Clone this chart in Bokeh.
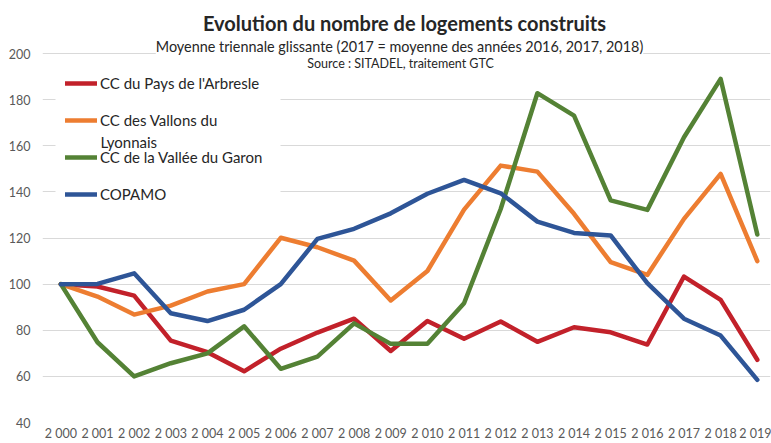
from bokeh.plotting import figure
from bokeh.models import (FixedTicker, Legend, LegendItem, Label, Range1d, BoxAnnotation)
from bokeh.embed import file_html
from bokeh.resources import INLINE

years = list(range(2000, 2020))
year_labels = ["2 000", "2 001", "2 002", "2 003", "2 004", "2 005", "2 006", "2 007",
               "2 008", "2 009", "2 010", "2 011", "2 012", "2 013", "2 014", "2 015",
               "2 016", "2 017", "2 018", "2 019"]
arbresle = [100, 99, 95, 75.5, 70.5, 62.2, 72, 79, 85, 71, 84, 76.3, 83.8, 75, 81.3,
            79.1, 73.8, 103.3, 93.2, 67.2]
vallons = [100, 94.6, 86.8, 90.7, 96.8, 100, 120.1, 116, 110.2, 92.9, 105.7, 132.3,
           151.4, 148.8, 130.5, 109.5, 104, 128.3, 147.8, 110]
garon = [100, 74.8, 60, 65.7, 70, 81.7, 63.3, 68.6, 83, 74.1, 74.1, 91.7, 132.6,
         182.8, 173.1, 136.3, 132.2, 163.7, 189, 121.5]
copamo = [100, 100.1, 104.7, 87.4, 84, 88.9, 100, 119.6, 124, 130.7, 139.2, 145.2,
          139.4, 127.1, 122.2, 121.1, 100.4, 85, 77.7, 58.5]
y_ticks = [40, 60, 80, 100, 120, 140, 160, 180, 200]

series_names = ["CC du Pays de l'Arbresle", "CC des Vallons du",
                "CC de la Vallée du Garon", "COPAMO"]
wrap_line = "Lyonnais"
colors = ["#C2212A", "#ED7D31", "#548235", "#2E5597"]

FONT = "Lato"
TXT = "#595959"
DARK = "#262626"

p = figure(width=771, height=443, output_backend="svg", toolbar_location=None,
           x_range=Range1d(1999.5, 2019.36), y_range=Range1d(40, 223),
           min_border_left=42, min_border_right=1, min_border_top=0, min_border_bottom=21)
p.outline_line_color = None
p.background_fill_color = "white"

renderers = []
for data, c in zip([arbresle, vallons, garon, copamo], colors):
    r = p.line(years, data, line_color=c, line_width=4.5, line_join="round", line_cap="round")
    renderers.append(r)

p.xgrid.visible = False
p.ygrid.grid_line_color = "#D9D9D9"
p.ygrid.grid_line_width = 1
p.ygrid.ticker = FixedTicker(ticks=y_ticks)

p.yaxis.ticker = FixedTicker(ticks=y_ticks)
p.xaxis.ticker = FixedTicker(ticks=years)
p.xaxis.major_label_overrides = {y: l for y, l in zip(years, year_labels)}
for ax in (p.xaxis[0], p.yaxis[0]):
    ax.axis_line_color = None
    ax.major_tick_line_color = None
    ax.minor_tick_line_color = None
    ax.major_tick_out = 0
    ax.major_tick_in = 0
    ax.minor_tick_out = 0
    ax.minor_tick_in = 0
    ax.major_label_text_font = FONT
    ax.major_label_text_font_size = "12.5px"
    ax.major_label_text_color = TXT
p.yaxis.major_label_standoff = 12
p.xaxis.major_label_standoff = 3

# white panel behind the legend (hides the gridlines like the original legend box)
p.add_layout(BoxAnnotation(left=13, right=238, bottom=422 - 212, top=422 - 66,
                           left_units="screen", right_units="screen",
                           bottom_units="screen", top_units="screen",
                           fill_color="white", fill_alpha=1.0, line_color=None,
                           level="underlay"))

items = [LegendItem(label=n, renderers=[r]) for n, r in zip(series_names, renderers)]
legend = Legend(items=items, location=(23, 218), orientation="vertical",
                glyph_width=32, glyph_height=20, label_height=20, spacing=17,
                padding=10, label_standoff=3, margin=0,
                label_text_font=FONT, label_text_font_size="15px", label_text_color=DARK,
                background_fill_alpha=0.0, border_line_color=None)
p.add_layout(legend, "center")

p.add_layout(Label(x=58, y=422 - 141, x_units="screen", y_units="screen", text=wrap_line,
                   text_font=FONT, text_font_size="15px", text_color=DARK,
                   text_baseline="middle", text_align="left"))

p.add_layout(Label(x=362, y=422 - 22, x_units="screen", y_units="screen",
                   text="Evolution du nombre de logements construits",
                   text_font=FONT, text_font_size="20px", text_font_style="bold",
                   text_color=DARK, text_align="center", text_baseline="middle"))
p.add_layout(Label(x=357, y=422 - 46, x_units="screen", y_units="screen",
                   text="Moyenne triennale glissante (2017 = moyenne des années 2016, 2017, 2018)",
                   text_font=FONT, text_font_size="14.4px", text_color=DARK,
                   text_align="center", text_baseline="middle",
                   background_fill_color="white", background_fill_alpha=1.0))
p.add_layout(Label(x=358, y=422 - 63, x_units="screen", y_units="screen",
                   text="Source : SITADEL, traitement GTC",
                   text_font=FONT, text_font_size="12.5px", text_color=DARK,
                   text_align="center", text_baseline="middle"))

open("out.html", "w").write(file_html(p, INLINE))
